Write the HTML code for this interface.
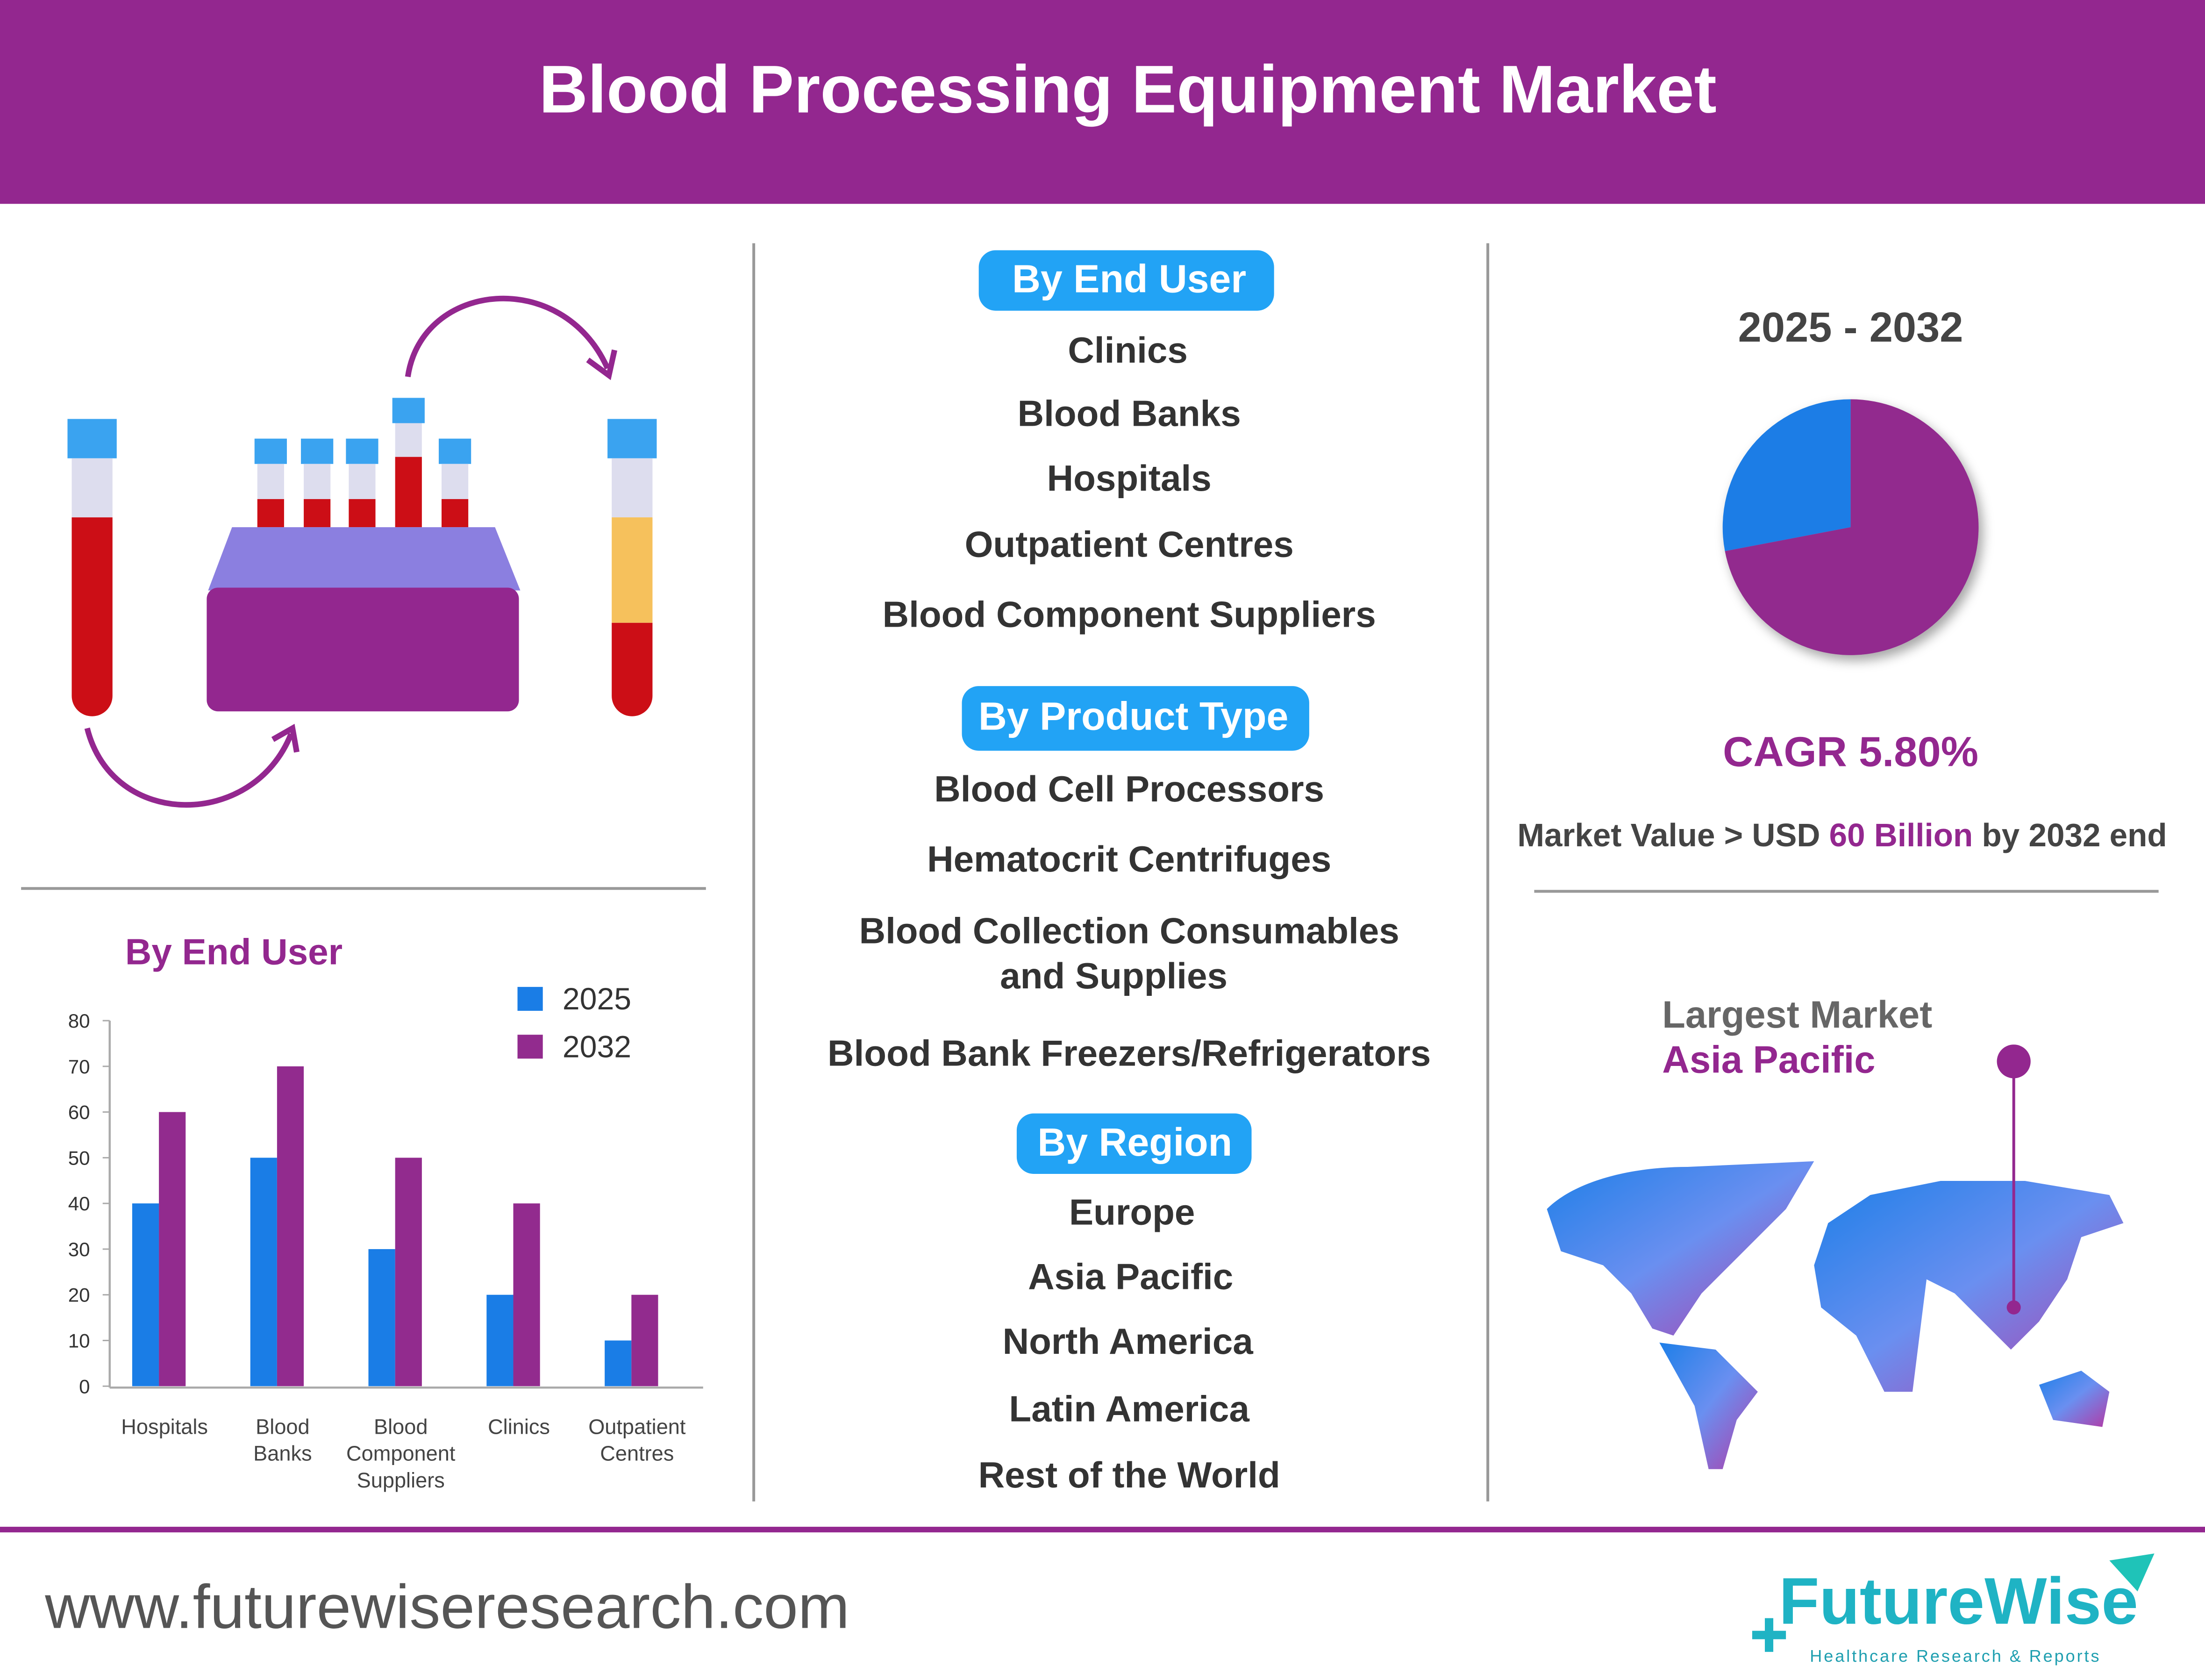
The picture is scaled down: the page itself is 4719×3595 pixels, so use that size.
<!DOCTYPE html>
<html><head><meta charset="utf-8"><style>
html,body{margin:0;padding:0;background:#fff;}
svg{display:block;}
text{font-family:"Liberation Sans",sans-serif;}
</style></head><body>
<svg width="4719" height="3595" viewBox="0 0 1568 1195" preserveAspectRatio="none" xmlns="http://www.w3.org/2000/svg">
<defs>
<linearGradient id="mapg" x1="0" y1="0" x2="1" y2="1"><stop offset="0" stop-color="#1e7fe8"/><stop offset="0.5" stop-color="#6a8ff0"/><stop offset="1" stop-color="#b23aa6"/></linearGradient>
<filter id="sh"><feDropShadow dx="3" dy="4" stdDeviation="4" flood-opacity="0.35"/></filter>
</defs>
<rect x="0" y="0" width="1568" height="145" fill="#93278f"/>
<text x="802" y="80" font-size="48" font-weight="bold" fill="#fff" text-anchor="middle">Blood Processing Equipment Market</text>
<line x1="536" y1="173" x2="536" y2="1068" stroke="#999" stroke-width="2"/>
<line x1="1058" y1="173" x2="1058" y2="1068" stroke="#999" stroke-width="2"/>
<line x1="15" y1="632" x2="502" y2="632" stroke="#999" stroke-width="2"/>
<line x1="1091" y1="634" x2="1535" y2="634" stroke="#999" stroke-width="2"/>
<rect x="0" y="1086" width="1568" height="4" fill="#93278f"/>
<text x="32" y="1158" font-size="44" fill="#555">www.futurewiseresearch.com</text>
<g>
<text x="1265" y="1155" font-size="47" font-weight="bold" fill="#1fb3c4">FutureWise</text>
<path d="M1500 1110 L1532 1105 L1520 1132 Z" fill="#1fc3b8"/>
<rect x="1246" y="1160" width="24" height="6" fill="#1fb3c4"/><rect x="1255" y="1151" width="6" height="24" fill="#1fb3c4"/>
<text x="1287" y="1182" font-size="12" fill="#1f9fb0" letter-spacing="1.3">Healthcare Research &amp; Reports</text>
</g>

<g>
<path d="M290 268 C300 200,400 190,432 262" fill="none" stroke="#93278f" stroke-width="4"/>
<path d="M418 256 L433 267 L437 249" fill="none" stroke="#93278f" stroke-width="4"/>
<path d="M62 518 C80 590,180 590,207 522" fill="none" stroke="#93278f" stroke-width="4"/>
<path d="M194 526 L208 518 L211 535" fill="none" stroke="#93278f" stroke-width="4"/>
<rect x="48" y="298" width="35" height="28" fill="#3aa3f0"/>
<rect x="51" y="326" width="29" height="42" fill="#dde"/>
<path d="M51 368 H80 V495 A14.5 14.5 0 0 1 51 495 Z" fill="#cc0e16"/>
<rect x="432" y="298" width="35" height="28" fill="#3aa3f0"/>
<rect x="435" y="326" width="29" height="42" fill="#dde"/>
<rect x="435" y="368" width="29" height="75" fill="#f6c15c"/>
<path d="M435 443 H464 V495 A14.5 14.5 0 0 1 435 495 Z" fill="#cc0e16"/>
<g fill="#3aa3f0">
<rect x="181" y="312" width="23" height="18"/><rect x="214" y="312" width="23" height="18"/><rect x="246" y="312" width="23" height="18"/><rect x="279" y="283" width="23" height="18"/><rect x="312" y="312" width="23" height="18"/></g>
<g fill="#dde"><rect x="183" y="330" width="19" height="25"/><rect x="216" y="330" width="19" height="25"/><rect x="248" y="330" width="19" height="25"/><rect x="281" y="301" width="19" height="24"/><rect x="314" y="330" width="19" height="25"/></g>
<g fill="#cc0e16"><rect x="183" y="355" width="19" height="20"/><rect x="216" y="355" width="19" height="20"/><rect x="248" y="355" width="19" height="20"/><rect x="281" y="325" width="19" height="50"/><rect x="314" y="355" width="19" height="20"/></g>
<path d="M165 375 H352 L370 420 H148 Z" fill="#8b7fe0"/>
<rect x="147" y="418" width="222" height="88" rx="8" fill="#93278f"/>
</g>

<g id="chart">
<text x="89" y="686" font-size="26" font-weight="bold" fill="#93278f">By End User</text>
<rect x="368" y="702" width="18" height="17" fill="#1a7de6"/>
<text x="400" y="718" font-size="22" fill="#333">2025</text>
<rect x="368" y="736" width="18" height="17" fill="#922b8e"/>
<text x="400" y="752" font-size="22" fill="#333">2032</text>
</g>

<g font-weight="bold" fill="#333" font-size="26" text-anchor="middle">
<rect x="696" y="178" width="210" height="43" rx="12" fill="#22a3f5"/>
<text x="803" y="208" fill="#fff" font-size="28">By End User</text>
<text x="802" y="258">Clinics</text>
<text x="803" y="303">Blood Banks</text>
<text x="803" y="349">Hospitals</text>
<text x="803" y="396">Outpatient Centres</text>
<text x="803" y="446">Blood Component Suppliers</text>
<rect x="684" y="488" width="247" height="46" rx="12" fill="#22a3f5"/>
<text x="806" y="519" fill="#fff" font-size="28">By Product Type</text>
<text x="803" y="570">Blood Cell Processors</text>
<text x="803" y="620">Hematocrit Centrifuges</text>
<text x="803" y="671">Blood Collection Consumables</text>
<text x="792" y="703">and Supplies</text>
<text x="803" y="758">Blood Bank Freezers/Refrigerators</text>
<rect x="723" y="792" width="167" height="43" rx="12" fill="#22a3f5"/>
<text x="807" y="822" fill="#fff" font-size="28">By Region</text>
<text x="805" y="871">Europe</text>
<text x="804" y="917">Asia Pacific</text>
<text x="802" y="963">North America</text>
<text x="803" y="1011">Latin America</text>
<text x="803" y="1058">Rest of the World</text>
</g>

<text x="1316" y="243" font-size="30" font-weight="bold" fill="#444" text-anchor="middle">2025 - 2032</text>
<g id="pie" filter="url(#sh)"></g>
<text x="1316" y="545" font-size="30" font-weight="bold" fill="#93278f" text-anchor="middle">CAGR 5.80%</text>
<text x="1310" y="602" font-size="23" fill="#444" text-anchor="middle" font-weight="bold">Market Value &gt; USD <tspan fill="#93278f">60 Billion</tspan> by 2032 end</text>
<text x="1182" y="731" font-size="27" font-weight="bold" fill="#666">Largest Market</text>
<text x="1182" y="763" font-size="27" font-weight="bold" fill="#93278f">Asia Pacific</text>
<g fill="url(#mapg)">
<path d="M1100 860 C1120 840,1160 830,1200 830 L1290 826 L1270 860 L1240 890 L1210 920 L1190 950 L1175 945 L1160 920 L1140 900 L1110 890 Z"/>
<path d="M1180 955 L1220 960 L1250 990 L1235 1010 L1225 1045 L1215 1045 L1205 1000 Z"/>
<path d="M1300 870 L1330 850 L1380 840 L1440 840 L1500 850 L1510 870 L1480 880 L1470 910 L1450 940 L1430 960 L1410 940 L1390 920 L1370 910 L1360 990 L1340 990 L1320 950 L1295 930 L1290 900 Z"/>
<path d="M1450 985 L1480 975 L1500 990 L1495 1015 L1460 1010 Z"/>
</g>
<line x1="1432" y1="755" x2="1432" y2="930" stroke="#93278f" stroke-width="2"/>
<circle cx="1432" cy="755" r="12" fill="#93278f"/>
<circle cx="1432" cy="930" r="5" fill="#93278f"/>
</svg>
<script>
var categories=[["Hospitals"],["Blood","Banks"],["Blood","Component","Suppliers"],["Clinics"],["Outpatient","Centres"]];
var values2025=[40,50,30,20,10];
var values2032=[60,70,50,40,20];
var yTicks=[0,10,20,30,40,50,60,70,80];
var pieShares=[28,72];
var NS="http://www.w3.org/2000/svg";
var chart=document.getElementById('chart');
function y(v){return 986-v*3.25;}
function xc(i){return 115+i*84;}
function mk(tag,at,parent){var e=document.createElementNS(NS,tag);for(var k in at)e.setAttribute(k,at[k]);parent.appendChild(e);return e;}
var ax=mk('line',{x1:78,y1:726,x2:78,y2:987,stroke:'#aaa','stroke-width':1.5},chart);


var bx=mk('line',{x1:78,y1:987,x2:500,y2:987,stroke:'#aaa','stroke-width':1.5},chart);


yTicks.forEach(function(t){
 var tl=mk('text',{x:64,y:y(t)+5,'font-size':14,fill:'#333','text-anchor':'end'},chart);tl.textContent=t;
 
 
 mk('line',{x1:73,y1:y(t),x2:78,y2:y(t),stroke:'#aaa'},chart);
});
categories.forEach(function(c,i){
 var b1=mk('rect',{x:xc(i)-21,y:y(values2025[i]),width:19,height:986-y(values2025[i]),fill:'#1a7de6'},chart);
 
 
 var b2=mk('rect',{x:xc(i)-2,y:y(values2032[i]),width:19,height:986-y(values2032[i]),fill:'#922b8e'},chart);
 
 
 c.forEach(function(line,j){
  var t=mk('text',{x:xc(i)+2,y:1020+j*19,'font-size':15,fill:'#444','text-anchor':'middle'},chart);t.textContent=line;
  
  
 });
});
var pie=document.getElementById('pie');
var cx=1316,cy=375,r=91,tot=pieShares[0]+pieShares[1],a0=-Math.PI/2,cols=['#1a7de6','#922b8e'];
var s=pieShares[0]/tot*2*Math.PI;
var aB=a0-s;
var big=s>Math.PI?1:0;
var p1=mk('path',{d:'M'+cx+' '+cy+' L'+cx+' '+(cy-r)+' A'+r+' '+r+' 0 '+big+' 0 '+(cx+r*Math.cos(aB))+' '+(cy+r*Math.sin(aB))+' Z',fill:cols[0]},pie);


var p2=mk('path',{d:'M'+cx+' '+cy+' L'+cx+' '+(cy-r)+' A'+r+' '+r+' 0 '+(1-big)+' 1 '+(cx+r*Math.cos(aB))+' '+(cy+r*Math.sin(aB))+' Z',fill:cols[1]},pie);


</script>
</body></html>
